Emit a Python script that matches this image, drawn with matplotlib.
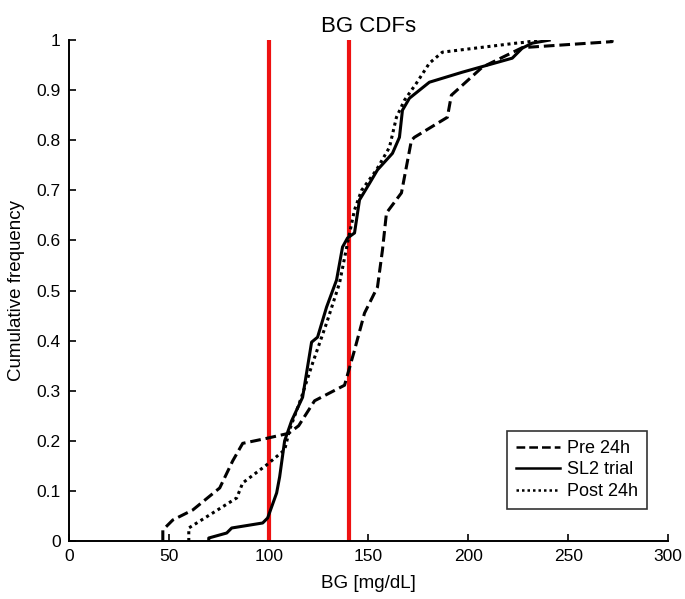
import numpy as np
import matplotlib.pyplot as plt

plt.rcParams['font.family'] = ['Liberation Sans', 'DejaVu Sans']

# Pre 24h (dashed)
pre_bg = [47, 47, 52, 62, 75.5, 82, 87, 99, 110, 115, 123, 138, 143, 148, 152, 154.5,
          157, 159, 166.5, 171.5, 173, 189.5, 191.5, 207, 227, 272, 272]
pre_cdf = [0, 0.022, 0.042, 0.062, 0.106, 0.16, 0.195, 0.205, 0.215, 0.23, 0.28, 0.311,
           0.381, 0.455, 0.487, 0.507, 0.581, 0.655, 0.695, 0.80, 0.806, 0.846, 0.89,
           0.946, 0.985, 0.997, 1.0]

# SL2 trial (solid)
sl2_bg = [70, 70, 79, 81.5, 97, 99.5, 104, 105.5, 108, 111.5, 117, 121.5, 124.5, 129,
          134, 137, 139.5, 143, 145.5, 150.5, 154.5, 162, 165.5, 167, 170.5, 180.5,
          197, 222, 227, 232, 240.5]
sl2_cdf = [0, 0.006, 0.016, 0.026, 0.036, 0.046, 0.096, 0.128, 0.2, 0.24, 0.287, 0.397,
           0.407, 0.467, 0.521, 0.587, 0.605, 0.615, 0.681, 0.714, 0.741, 0.774, 0.806,
           0.86, 0.884, 0.916, 0.936, 0.964, 0.984, 0.994, 1.0]

# Post 24h (dotted)
post_bg = [60, 60, 72, 84, 87, 99, 108, 110.5, 116.5, 122, 129, 135.5, 139.5, 143, 146.5,
           154, 160.5, 164, 168, 174, 180.5, 187, 224, 229, 235]
post_cdf = [0, 0.026, 0.056, 0.086, 0.116, 0.152, 0.182, 0.222, 0.288, 0.355, 0.435,
            0.515, 0.595, 0.661, 0.70, 0.741, 0.786, 0.846, 0.88, 0.914, 0.954, 0.976,
            0.994, 0.996, 1.0]

limits = [100, 140]

fig = plt.figure(figsize=(6.85, 5.99), dpi=100)
ax = fig.add_axes([0.1007, 0.0968, 0.8745, 0.8362])

for lim in limits:
    ax.plot([lim, lim], [0, 1], color='#ee1111', lw=3)

ax.plot(pre_bg, pre_cdf, color='black', lw=2.2, ls=(0, (3.5, 1.6)), label='Pre 24h')
ax.plot(sl2_bg, sl2_cdf, color='black', lw=2.2, ls='-', label='SL2 trial')
ax.plot(post_bg, post_cdf, color='black', lw=2.2, ls=(0, (1, 1.2)), label='Post 24h')

ax.set_xlim(0, 300)
ax.set_ylim(0, 1)
ax.set_xticks(np.arange(0, 301, 50))
ax.set_yticks(np.arange(0, 1.01, 0.1))
ax.set_yticklabels(['0', '0.1', '0.2', '0.3', '0.4', '0.5', '0.6', '0.7', '0.8', '0.9', '1'])
ax.tick_params(direction='in', length=5, width=1.2, labelsize=12.5, pad=6)
for s in ['top', 'right']:
    ax.spines[s].set_visible(False)
for s in ['left', 'bottom']:
    ax.spines[s].set_linewidth(1.4)

ax.set_xlabel('BG [mg/dL]', fontsize=13.5, labelpad=8)
ax.set_ylabel('Cumulative frequency', fontsize=13.5, labelpad=8)
ax.set_title('BG CDFs', fontsize=16, pad=6)

leg = ax.legend(loc='lower right', bbox_to_anchor=(0.965, 0.064), borderaxespad=0,
                fancybox=False, edgecolor='black', fontsize=13, handlelength=2.4,
                handletextpad=0.4, labelspacing=0.25, borderpad=0.5)
leg.get_frame().set_linewidth(1.2)
for h in leg.get_lines():
    h.set_linewidth(1.8)

fig.savefig('out.png', dpi=100)
